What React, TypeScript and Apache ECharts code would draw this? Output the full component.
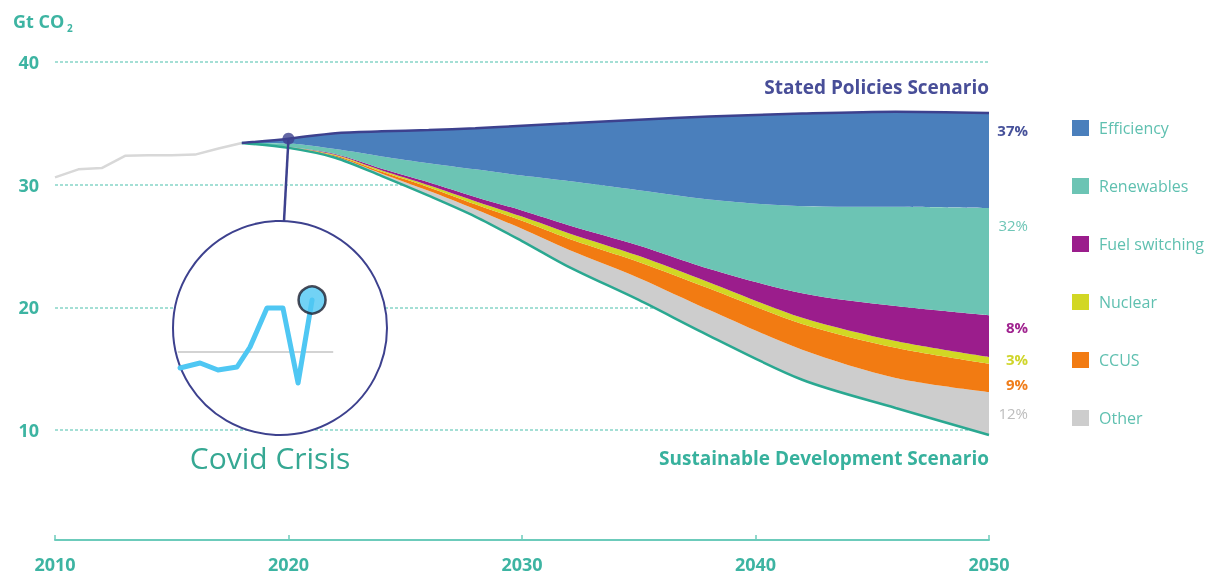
import { useEffect, useRef } from 'react';
import * as echarts from 'echarts';

// ---- data ----
const histYears = [2010, 2011, 2012, 2013, 2014, 2015, 2016, 2017, 2018];
const histEmissions = [30.6, 31.25, 31.35, 32.35, 32.4, 32.4, 32.45, 32.95, 33.4];

const years = [2018, 2020, 2022, 2024, 2026, 2028, 2030, 2032, 2035, 2038, 2042, 2046, 2050];
const sds = [33.4, 33.0, 32.2, 30.7, 29.1, 27.4, 25.4, 23.3, 20.6, 17.7, 14.1, 11.8, 9.6];
const other = [0, 0.03, 0.1, 0.2, 0.4, 0.6, 1.0, 1.4, 1.8, 2.1, 2.45, 2.45, 3.5];
const ccus = [0, 0.02, 0.08, 0.15, 0.3, 0.4, 0.65, 0.9, 1.3, 1.75, 2.1, 2.45, 2.3];
const nuclear = [0, 0.02, 0.05, 0.1, 0.15, 0.25, 0.35, 0.45, 0.5, 0.5, 0.5, 0.55, 0.55];
const fuelSwitching = [0, 0.02, 0.07, 0.15, 0.25, 0.35, 0.5, 0.65, 0.85, 1.1, 2.0, 2.85, 3.4];
const renewables = [0, 0.26, 0.4, 1.0, 1.55, 2.25, 2.85, 3.6, 4.5, 5.65, 7.1, 8.1, 8.75];
const efficiency = [0, 0.4, 1.3, 2.05, 2.7, 3.35, 4.05, 4.7, 5.75, 6.75, 7.55, 7.75, 7.75];

const layerNames = ['Other', 'CCUS', 'Nuclear', 'Fuel switching', 'Renewables', 'Efficiency'];
const layerValues = [other, ccus, nuclear, fuelSwitching, renewables, efficiency];
const layerColors = ['#cdcdcd', '#f27b12', '#d2d724', '#9b1d8c', '#6cc4b4', '#4a7fbc'];
const legendOrder = ['Efficiency', 'Renewables', 'Fuel switching', 'Nuclear', 'CCUS', 'Other'];

const shareLabels = ['37%', '32%', '8%', '3%', '9%', '12%'];
const shareColors = ['#46519a', '#6fc6b7', '#a0238f', '#cfd52a', '#f07d1a', '#bdbdbd'];
const shareY = [130, 225, 327, 359, 384, 413];

// Covid inset (stylised sketch inside the circle)
const covidX = [0.36, 1.79, 3.07, 4.43, 5.36, 6.57, 7.71, 8.79, 9.79];
const covidY = [2.2, 2.7, 2.0, 2.3, 4.3, 8.2, 8.2, 0.7, 9.0];
const covidRef = [[0.2, 3.8], [11.3, 3.8]];

const TEAL = '#3db4a2';
const NAVY = '#3d418e';
const FONT = 'Open Sans';

const t = (y: number) => Date.UTC(y, 0, 1);

export default function App() {
  const ref = useRef<HTMLDivElement>(null);
  useEffect(() => {
    const chart = echarts.init(ref.current!, null, { renderer: 'svg' });
    const steps = years.map((_, i) => sds[i] + layerValues.reduce((s, arr) => s + arr[i], 0));
    const smooth = 0.3;

    const layerSeries = layerNames.map((name, k) => ({
      name,
      type: 'line',
      xAxisIndex: 0,
      yAxisIndex: 0,
      stack: 'cut',
      smooth,
      symbol: 'none',
      data: years.map((y, i) => [t(y), layerValues[k][i]]),
      lineStyle: { width: 0 },
      itemStyle: { color: layerColors[k] },
      areaStyle: { color: layerColors[k], opacity: 1 },
      z: 2,
    }));

    const option: any = {
      animation: false,
      grid: [
        { left: 55, right: 226, top: 62, bottom: 24.3 },
        { left: 175, top: 290, width: 168, height: 100 },
      ],
      xAxis: [
        { type: 'time', gridIndex: 0, position: 'top', min: t(2010), max: t(2050), show: false },
        {
          type: 'value', gridIndex: 0, position: 'bottom', min: 2010, max: 2050, interval: 10, offset: -12.7,
          axisLine: { lineStyle: { color: '#6ccbbb', width: 2 } },
          axisTick: { inside: true, length: 5, lineStyle: { color: '#6ccbbb', width: 1.5 } },
          axisLabel: { formatter: (v: number) => String(v), color: TEAL, fontSize: 18, fontWeight: 'bold', fontFamily: FONT, margin: 15 },
          splitLine: { show: false },
        },
        { type: 'value', gridIndex: 1, min: 0, max: 12, show: false },
      ],
      yAxis: [
        {
          type: 'value', gridIndex: 0, min: 0, max: 40, interval: 10,
          axisLine: { show: false }, axisTick: { show: false },
          axisLabel: { color: TEAL, fontSize: 18, fontWeight: 'bold', fontFamily: FONT, margin: 16, showMinLabel: false },
          splitLine: { lineStyle: { color: ['rgba(0,0,0,0)', '#86d5c8', '#86d5c8', '#86d5c8', '#86d5c8'], type: [3, 2], width: 1.6 } },
        },
        { type: 'value', gridIndex: 1, min: 0, max: 10, show: false },
      ],
      legend: {
        data: legendOrder,
        orient: 'vertical',
        left: 1067,
        top: 115,
        itemWidth: 17,
        itemHeight: 16,
        itemGap: 42,
        icon: 'rect',
        itemStyle: { borderWidth: 0 },
        textStyle: { color: '#5fc0b0', fontSize: 16, fontFamily: FONT, padding: [0, 0, 0, 5] },
        selectedMode: false,
      },
      series: [
        {
          name: 'History', type: 'line', xAxisIndex: 1, yAxisIndex: 0, symbol: 'none',
          data: histYears.map((y, i) => [y, histEmissions[i]]),
          lineStyle: { color: '#d8d8d8', width: 2.5 }, itemStyle: { color: '#d8d8d8' }, z: 2,
        },
        {
          name: 'Sustainable Development Scenario', type: 'line', xAxisIndex: 0, yAxisIndex: 0, stack: 'cut', smooth,
          symbol: 'none', data: years.map((y, i) => [t(y), sds[i]]),
          lineStyle: { color: '#2aa891', width: 2.5 }, itemStyle: { color: '#2aa891' }, z: 3,
        },
        ...layerSeries,
        {
          name: 'Stated Policies Scenario', type: 'line', xAxisIndex: 0, yAxisIndex: 0, smooth, symbol: 'none',
          data: years.map((y, i) => [t(y), steps[i]]),
          lineStyle: { color: NAVY, width: 2.5 }, itemStyle: { color: NAVY }, z: 3,
        },
        {
          name: 'Covid point', type: 'scatter', xAxisIndex: 0, yAxisIndex: 0, symbolSize: 12,
          data: [[t(2020), steps[1]]], itemStyle: { color: NAVY }, z: 6,
        },
        {
          name: 'Inset reference', type: 'line', xAxisIndex: 2, yAxisIndex: 1, symbol: 'none',
          data: covidRef, lineStyle: { color: '#d3d3d3', width: 2 }, z: 6,
        },
        {
          name: 'Inset emissions', type: 'line', xAxisIndex: 2, yAxisIndex: 1, symbol: 'none',
          data: covidX.map((x, i) => [x, covidY[i]]),
          lineStyle: { color: '#4fc7f3', width: 5, join: 'round', cap: 'round' }, z: 7,
        },
        {
          name: 'Inset dot', type: 'scatter', xAxisIndex: 2, yAxisIndex: 1, symbolSize: 27,
          data: [[covidX[covidX.length - 1], covidY[covidY.length - 1]]],
          itemStyle: { color: '#4fc7f3', borderColor: '#1d1f30', borderWidth: 2.5 }, z: 8,
        },
      ],
    };
    chart.setOption(option);

    const p = chart.convertToPixel({ xAxisIndex: 0, yAxisIndex: 0 }, [t(2020), steps[1]]) as number[];
    const cx = 280, cy = 328, r = 107;

    const graphics: any[] = [
      { type: 'circle', z: 4, shape: { cx, cy, r }, style: { fill: '#ffffff', stroke: NAVY, lineWidth: 2 } },
      { type: 'line', z: 5, shape: { x1: p[0], y1: p[1], x2: cx + 4, y2: cy - r }, style: { stroke: NAVY, lineWidth: 2.5 } },
      { type: 'text', z: 5, x: 13, y: 21, style: { text: 'Gt CO', fill: TEAL, fontSize: 18, fontWeight: 'bold', fontFamily: FONT, verticalAlign: 'middle' } },
      { type: 'text', z: 5, x: 67, y: 28, style: { text: '2', fill: TEAL, fontSize: 10, fontWeight: 'bold', fontFamily: FONT, verticalAlign: 'middle' } },
      { type: 'text', z: 5, x: 989, y: 87, style: { text: 'Stated Policies Scenario', fill: '#484e98', fontSize: 19, fontWeight: 'bold', fontFamily: FONT, align: 'right', verticalAlign: 'middle' } },
      { type: 'text', z: 5, x: 989, y: 458, style: { text: 'Sustainable Development Scenario', fill: '#37b19d', fontSize: 19, fontWeight: 'bold', fontFamily: FONT, align: 'right', verticalAlign: 'middle' } },
      { type: 'text', z: 5, x: 270, y: 457, style: { text: 'Covid Crisis', fill: '#36a893', fontSize: 30, fontFamily: FONT, align: 'center', verticalAlign: 'middle' } },
      ...shareLabels.map((s, i) => ({
        type: 'text', z: 5, x: 1028, y: shareY[i],
        style: { text: s, fill: shareColors[i], fontSize: 15, fontWeight: i === 1 || i === 5 ? 'normal' : 'bold', fontFamily: FONT, align: 'right', verticalAlign: 'middle' },
      })),
    ];
    chart.setOption({ graphic: { elements: graphics } });

    return () => chart.dispose();
  }, []);
  return <div ref={ref} style={{ position: 'fixed', left: 0, top: 0, width: 1215, height: 577 }} />;
}
